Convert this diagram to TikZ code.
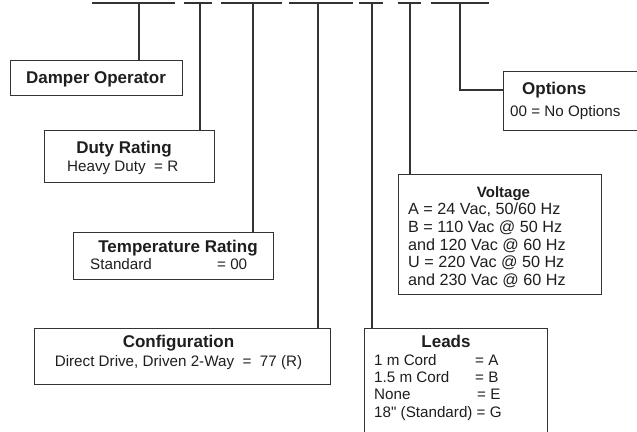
\documentclass[tikz,border=0pt]{standalone}
\usepackage{fontspec}
\setmainfont{Liberation Sans}[Ligatures=TeXOff]
\definecolor{lc}{HTML}{333333}
\definecolor{tc}{HTML}{1E1E1E}
\tikzset{
  ln/.style={draw=lc, line width=1.3pt},
  box/.style={draw=lc, line width=1.3pt, rectangle, inner sep=0pt, anchor=north west},
  ttl/.style={inner sep=0pt, text=tc, font=\fontsize{17}{20}\selectfont\bfseries},
  sttl/.style={inner sep=0pt, text=tc, font=\fontsize{15}{17}\selectfont\bfseries},
  txt/.style={inner sep=0pt, text=tc, font=\fontsize{15.2}{18}\selectfont},
  vtxt/.style={inner sep=0pt, text=tc, font=\fontsize{16.2}{18}\selectfont},
}
\begin{document}
\begin{tikzpicture}[x=1pt,y=-1pt]
\useasboundingbox (0,0) rectangle (637,431);
% boxes
\node[box, minimum width=172pt, minimum height=35pt] (damper) at (10,60) {};
\node[box, minimum width=170pt, minimum height=52pt] (duty) at (44,130) {};
\node[box, minimum width=200pt, minimum height=47pt] (temp) at (73,232) {};
\node[box, minimum width=296pt, minimum height=56pt] (config) at (34,328) {};
\node[box, minimum width=183pt, minimum height=117pt] (leads) at (364,328) {};
\node[box, minimum width=203pt, minimum height=120pt] (volt) at (398,174) {};
\node[box, minimum width=147pt, minimum height=59pt] (opts) at (503,71) {};
% top segments
\coordinate (a1) at (92,3);  \coordinate (b1) at (175,3); \coordinate (m1) at (139,3);
\coordinate (a2) at (184,3); \coordinate (b2) at (212,3); \coordinate (m2) at (200,3);
\coordinate (a3) at (221,3); \coordinate (b3) at (282,3); \coordinate (m3) at (253,3);
\coordinate (a4) at (289,3); \coordinate (b4) at (353,3); \coordinate (m4) at (318,3);
\coordinate (a5) at (359,3); \coordinate (b5) at (383,3); \coordinate (m5) at (372,3);
\coordinate (a6) at (398,3); \coordinate (b6) at (421,3); \coordinate (m6) at (410,3);
\coordinate (a7) at (431,3); \coordinate (b7) at (489,3); \coordinate (m7) at (460,3);
\coordinate (k7) at (460,90);
\foreach \i in {1,...,7} {\draw[ln] (a\i) -- (b\i);}
\draw[ln] (m1) -- (m1 |- damper.north);
\draw[ln] (m2) -- (m2 |- duty.north);
\draw[ln] (m3) -- (m3 |- temp.north);
\draw[ln] (m4) -- (m4 |- config.north);
\draw[ln] (m5) -- (m5 |- leads.north);
\draw[ln] (m6) -- (m6 |- volt.north);
\draw[ln] (m7) -- (k7) -- (k7 -| opts.west);
% texts
\node[ttl, anchor=base] (t1) at (96,83) {Damper Operator};
\node[ttl, anchor=base] (t2) at (124,153) {Duty Rating};
\node[txt, anchor=base west] (t2b) at (67,171.5) {Heavy Duty\ \ = R};
\node[ttl, anchor=base] (t3) at (178,252) {Temperature Rating};
\node[txt, anchor=base west] (t3b) at (90,269) {Standard};
\node[txt, anchor=base west] (t3c) at (217,269) {= 00};
\node[ttl, anchor=base] (t4) at (178.5,347) {Configuration};
\node[txt, anchor=base] (t4b) at (178.5,366) {Direct Drive, Driven 2-Way\ \ =\ \ 77 (R)};
\node[ttl, anchor=base west] (t7) at (522,94.5) {Options};
\node[txt, anchor=base west] (t7b) at (510,116.7) {00 = No Options};
\node[sttl, anchor=base] (t6) at (503.5,197.5) {Voltage};
\node[vtxt, anchor=base west] (v1) at (408,214) {A = 24 Vac, 50/60 Hz};
\node[vtxt, anchor=base west] (v2) at (408,232) {B = 110 Vac @ 50 Hz};
\node[vtxt, anchor=base west] (v3) at (408,250) {and 120 Vac @ 60 Hz};
\node[vtxt, anchor=base west] (v4) at (408,267.5) {U = 220 Vac @ 50 Hz};
\node[vtxt, anchor=base west] (v5) at (408,285) {and 230 Vac @ 60 Hz};
\node[ttl, anchor=base] (t5) at (446,347) {Leads};
\node[txt, anchor=base west] (l1) at (374,365) {\makebox[101pt][l]{1 m Cord}= A};
\node[txt, anchor=base west] (l2) at (374,382) {\makebox[101pt][l]{1.5 m Cord}= B};
\node[txt, anchor=base west] (l3) at (374,399.5) {\makebox[103pt][l]{None}= E};
\node[txt, anchor=base west] (l4) at (374,417) {18" (Standard) = G};
\end{tikzpicture}
\end{document}
